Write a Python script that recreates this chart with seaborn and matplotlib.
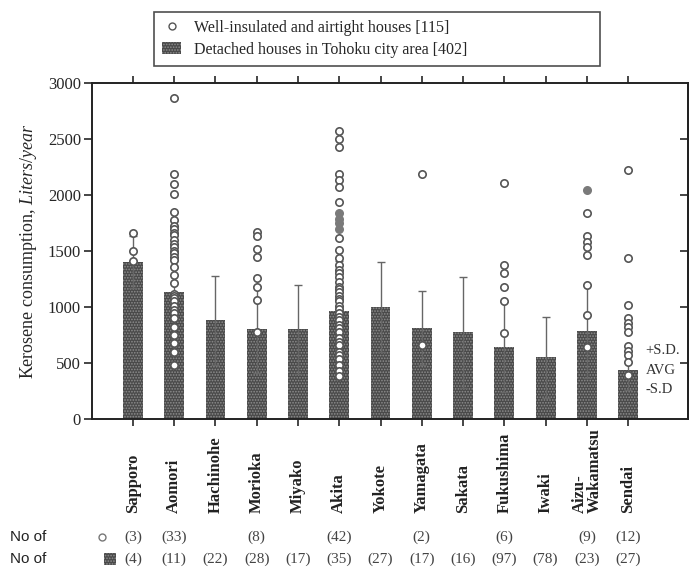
import numpy as np
import pandas as pd
import matplotlib
matplotlib.use("Agg")
import matplotlib.pyplot as plt
import matplotlib.transforms as mtransforms
from matplotlib.lines import Line2D
from matplotlib.patches import Patch, Rectangle
import seaborn as sns

# data
cities = ["Sapporo", "Aomori", "Hachinohe", "Morioka", "Miyako", "Akita", "Yokote",
          "Yamagata", "Sakata", "Fukushima", "Iwaki", "Aizu-\nWakamatsu", "Sendai"]
avg = [1400, 1135, 880, 800, 800, 965, 1000, 810, 775, 645, 550, 785, 435]
sd = [230, 330, 400, 390, 400, 450, 400, 330, 495, 400, 360, 415, 175]
n_detached = [4, 11, 22, 28, 17, 35, 27, 17, 16, 97, 78, 23, 27]
n_insulated = ["(3)", "(33)", "", "(8)", "", "(42)", "", "(2)", "", "(6)", "", "(9)", "(12)"]

# well-insulated houses (individual values)
sapporo_pts = [1660, 1500, 1410]
aomori_pts = [2870, 2190, 2100, 2010, 1850, 1780, 1720, 1700, 1660, 1640, 1600, 1560,
              1540, 1500, 1480, 1450, 1420, 1360, 1290, 1210, 1120, 1100, 1080, 1050,
              1010, 970, 950, 900, 820, 750, 680, 600, 480]
morioka_pts = [1670, 1630, 1520, 1450, 1260, 1180, 1060, 780]
akita_pts = [2570, 2500, 2430, 2190, 2130, 2075, 1940, 1615, 1510, 1435, 1375, 1330,
             1300, 1270, 1225, 1180, 1160, 1135, 1095, 1070, 1050, 1005, 980, 945,
             910, 885, 840, 810, 780, 720, 690, 660, 600, 570, 540, 480, 425, 380]
akita_filled = [1840, 1790, 1750, 1700]
yamagata_pts = [2190, 660]
fukushima_pts = [2110, 1375, 1300, 1180, 1055, 770]
aizu_pts = [1840, 1630, 1580, 1540, 1460, 1200, 930, 645]
aizu_filled = [2045]
sendai_pts = [2220, 1440, 1020, 900, 860, 820, 780, 650, 610, 570, 510, 390]

open_pts = {"Sapporo": sapporo_pts, "Aomori": aomori_pts, "Morioka": morioka_pts,
            "Akita": akita_pts, "Yamagata": yamagata_pts, "Fukushima": fukushima_pts,
            "Aizu-\nWakamatsu": aizu_pts, "Sendai": sendai_pts}
filled_pts = {"Akita": akita_filled, "Aizu-\nWakamatsu": aizu_filled}

sns.set_theme(style="ticks")
plt.rcParams["font.family"] = ["Liberation Serif", "DejaVu Serif"]
plt.rcParams["mathtext.fontset"] = "custom"
plt.rcParams["mathtext.rm"] = "Liberation Serif"
plt.rcParams["mathtext.it"] = "Liberation Serif:italic"
plt.rcParams["hatch.linewidth"] = 0.8

df = pd.DataFrame({"city": cities, "avg": avg, "sd": sd})
df["pos"] = np.arange(len(cities))

rows = []
for c, vals in open_pts.items():
    for v in vals:
        rows.append((cities.index(c), v))
pts = pd.DataFrame(rows, columns=["pos", "val"])
rows = []
for c, vals in filled_pts.items():
    for v in vals:
        rows.append((cities.index(c), v))
fpts = pd.DataFrame(rows, columns=["pos", "val"])

fig = plt.figure(figsize=(6.93, 5.71), dpi=100)
ax = fig.add_axes([92 / 693, 1 - 419 / 571, 596 / 693, 336 / 571])

bar_face = "#4a4a4a"
hatch_col = "#8e8e8e"
sns.barplot(data=df, x="pos", y="avg", width=0.48, color=bar_face, saturation=1,
            native_scale=True, errorbar=None, ax=ax)
for p in ax.patches:
    p.set_facecolor(bar_face)
    p.set_hatch("......")
    p.set_edgecolor(hatch_col)
    p.set_linewidth(0)

ax.errorbar(df["pos"], df["avg"], yerr=df["sd"], fmt="none", ecolor="#666666",
            elinewidth=1.0, capsize=3, capthick=1.0, zorder=3)

sns.scatterplot(data=pts, x="pos", y="val", marker="o", s=28, facecolor="white",
                edgecolor="#555555", linewidth=1.2, ax=ax, zorder=4)
sns.scatterplot(data=fpts, x="pos", y="val", marker="o", s=28, color="#7a7a7a",
                edgecolor="#7a7a7a", linewidth=1.2, ax=ax, zorder=4)

ax.set_xlim(-0.99, 13.45)
ax.set_ylim(0, 3000)
ax.set_yticks([0, 500, 1000, 1500, 2000, 2500, 3000])
ax.set_xticks(df["pos"])
ax.set_xticklabels([])
ax.set_xlabel("")
ax.set_ylabel(r"Kerosene consumption, $\mathit{Liters/year}$", fontsize=13, labelpad=6)
ax.tick_params(axis="y", direction="out", length=6, width=1.2, labelsize=12, pad=2)
ax.tick_params(axis="x", direction="out", length=5, width=1.2, top=True, bottom=True)
for s in ax.spines.values():
    s.set_visible(True)
    s.set_linewidth(1.4)
    s.set_color("#222222")

sec = ax.secondary_yaxis("right")
sec.set_yticks([500, 1000, 1500, 2000, 2500])
sec.tick_params(direction="in", length=6, width=1.2, labelright=False)
sec.spines["right"].set_linewidth(1.4)

# city labels under axis
lab_tr = mtransforms.blended_transform_factory(ax.transData, fig.transFigure)
for i, c in enumerate(cities):
    ax.text(i, 1 - 513 / 571, c, rotation=90, ha="center", va="bottom",
            multialignment="left", fontsize=12, fontweight="bold",
            color="#222222", transform=lab_tr, linespacing=0.9)

# SD labels beside Sendai
k = len(cities) - 1
ax.text(k + 0.42, avg[k] + sd[k], "+S.D.", fontsize=10.5, va="center", color="#333333")
ax.text(k + 0.42, avg[k], "AVG", fontsize=10.5, va="center", color="#333333")
ax.text(k + 0.42, avg[k] - sd[k], "-S.D", fontsize=10.5, va="center", color="#333333")

# sample counts rows
y1 = 1 - 537 / 571
y2 = 1 - 559 / 571
fig.text(10 / 693, y1, "No of", fontsize=11, va="center", family="Liberation Sans",
         color="#222222")
fig.text(10 / 693, y2, "No of", fontsize=11, va="center", family="Liberation Sans",
         color="#222222")
fig.add_artist(Line2D([102 / 693], [y1], marker="o", markersize=5, markerfacecolor="white",
                      markeredgecolor="#777777", markeredgewidth=1, linestyle="none",
                      transform=fig.transFigure))
fig.add_artist(Rectangle((104 / 693, y2 - 0.011), 12 / 693, 0.021, transform=fig.transFigure,
                         facecolor=bar_face, hatch="......", edgecolor=hatch_col, linewidth=0))
for i in range(len(cities)):
    ax.text(i, y1, n_insulated[i], ha="center", va="center", fontsize=11,
            color="#444444", transform=lab_tr)
    ax.text(i, y2, "(%d)" % n_detached[i], ha="center", va="center", fontsize=11,
            color="#444444", transform=lab_tr)

# legend
handles = [Line2D([], [], marker="o", markersize=5, markerfacecolor="white",
                  markeredgecolor="#555555", linestyle="none"),
           Patch(facecolor=bar_face, hatch="......", edgecolor=hatch_col, linewidth=0)]
labels = ["Well-insulated and airtight houses [115]",
          "Detached houses in Tohoku city area [402]"]
leg = fig.legend(handles, labels, loc="upper left",
                 bbox_to_anchor=(154 / 693, 1 - 73 / 571, 446 / 693, 61 / 571),
                 mode="expand", frameon=True, fancybox=False, fontsize=11.5,
                 handlelength=1.2, handletextpad=0.8, borderpad=0.5,
                 labelspacing=0.35, borderaxespad=0)
leg.get_frame().set_edgecolor("#222222")
leg.get_frame().set_linewidth(1.2)

fig.savefig("out.png", dpi=100)
